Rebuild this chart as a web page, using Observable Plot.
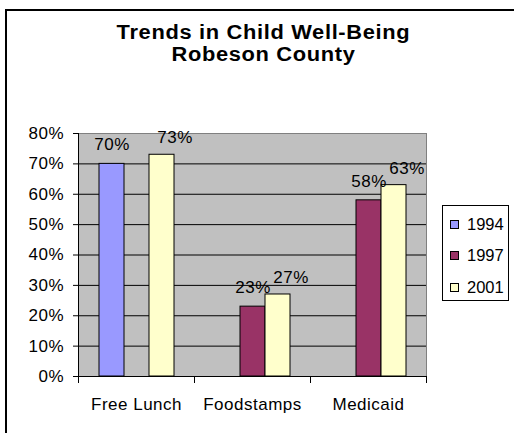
<!DOCTYPE html>
<html><head><meta charset="utf-8">
<script src="https://cdn.jsdelivr.net/npm/d3@7"></script>
<script src="https://cdn.jsdelivr.net/npm/@observablehq/plot@0.6"></script>
<style>
html,body{margin:0;padding:0;background:#fff;}
body{width:514px;height:433px;overflow:hidden;position:relative;font-family:"Liberation Sans",Arial,sans-serif;color:#000;}
#border{position:absolute;left:5px;top:9px;width:600px;height:500px;border-left:2px solid #000;border-top:2px solid #000;}
.title{position:absolute;left:0;width:527px;text-align:center;font-weight:bold;font-size:19.5px;letter-spacing:0.6px;line-height:22px;height:22px;white-space:nowrap;transform:scaleX(1.12);transform-origin:263.5px 50%;}
#chart{position:absolute;left:0;top:70px;}
#legend{position:absolute;left:442px;top:205px;width:67px;height:96px;border:1px solid #000;background:#fff;box-sizing:border-box;}
.row{position:absolute;left:7px;height:20px;font-size:16.5px;line-height:20px;white-space:nowrap;}
.sw{display:inline-block;width:7px;height:7px;border:1px solid #000;margin-right:8px;vertical-align:1px;}
</style>
</head><body>
<div id="border"></div>
<div class="title" style="top:21.25px">Trends in Child Well-Being</div>
<div class="title" style="top:43.25px">Robeson County</div>
<div id="chart"></div>
<div id="legend"></div>
<script>
const categories = ["Free Lunch", "Foodstamps", "Medicaid"];
const years = ["1994", "1997", "2001"];
const values1994 = [70, null, null];
const values1997 = [null, 23, 58];
const values2001 = [73, 27, 63];
const colors = ["#9999ff", "#993366", "#ffffcc"];
const yTicks = [0, 10, 20, 30, 40, 50, 60, 70, 80];

const series = [values1994, values1997, values2001];
const rows = [];
categories.forEach((c, i) => years.forEach((yr, j) => {
  const v = series[j][i];
  if (v != null) rows.push({category: c, year: yr, value: v});
}));

const H = 363, MT = 63, MB = 57;
const inner = H - MT - MB;

const chart = Plot.plot({
  width: 514, height: H,
  marginLeft: 77, marginRight: 88, marginTop: MT, marginBottom: MB,
  style: {fontFamily: "'Liberation Sans', Arial, sans-serif", fontSize: "17px", letterSpacing: "0.5px", color: "#000", background: "transparent", overflow: "visible"},
  fx: {domain: categories, padding: 0, label: null},
  x: {domain: years, paddingInner: 0, paddingOuter: 0.75, axis: null},
  y: {domain: [0, 80], label: null},
  color: {domain: years, range: colors},
  marks: [
    Plot.frame({facet: "super", fill: "#c0c0c0", stroke: null}),
    Plot.gridY(yTicks.filter(t => t > 0 && t < 80), {stroke: "#000", strokeOpacity: 1}),
    Plot.ruleY([80], {stroke: "#808080"}),
    Plot.frame({facet: "super", anchor: "right", stroke: "#808080"}),
    Plot.barY(rows, {fx: "category", x: "year", y: "value", fill: "year", stroke: "#000", strokeWidth: 1}),
    Plot.text(rows.filter(d => d.year !== "2001"), {fx: "category", x: "year", y: "value", text: d => d.value + "%", dy: -19, fill: "#000"}),
    Plot.text(rows.filter(d => d.year === "2001"), {fx: "category", x: "year", y: "value", text: d => d.value + "%", dx: 13, dy: -17, fill: "#000"}),
    Plot.ruleY([0], {stroke: "#000"}),
    Plot.frame({facet: "super", anchor: "left", stroke: "#000"}),
    Plot.frame({anchor: "left", insetTop: inner, insetBottom: -6, stroke: "#000"}),
    Plot.frame({facet: "super", anchor: "right", insetTop: inner, insetBottom: -6, stroke: "#000"}),
    Plot.axisY(yTicks, {tickSize: 5, tickPadding: 9.5, tickFormat: d => d + "%", label: null}),
    Plot.axisFx({anchor: "bottom", tickSize: 0, tickPadding: 21, label: null})
  ]
});
document.getElementById("chart").appendChild(chart);

const legend = document.getElementById("legend");
const rowTops = [8, 39, 71];
years.forEach((yr, i) => {
  const r = document.createElement("div");
  r.className = "row";
  r.style.top = rowTops[i] + "px";
  r.innerHTML = `<span class="sw" style="background:${colors[i]}"></span>${yr}`;
  legend.appendChild(r);
});
</script>
</body></html>
